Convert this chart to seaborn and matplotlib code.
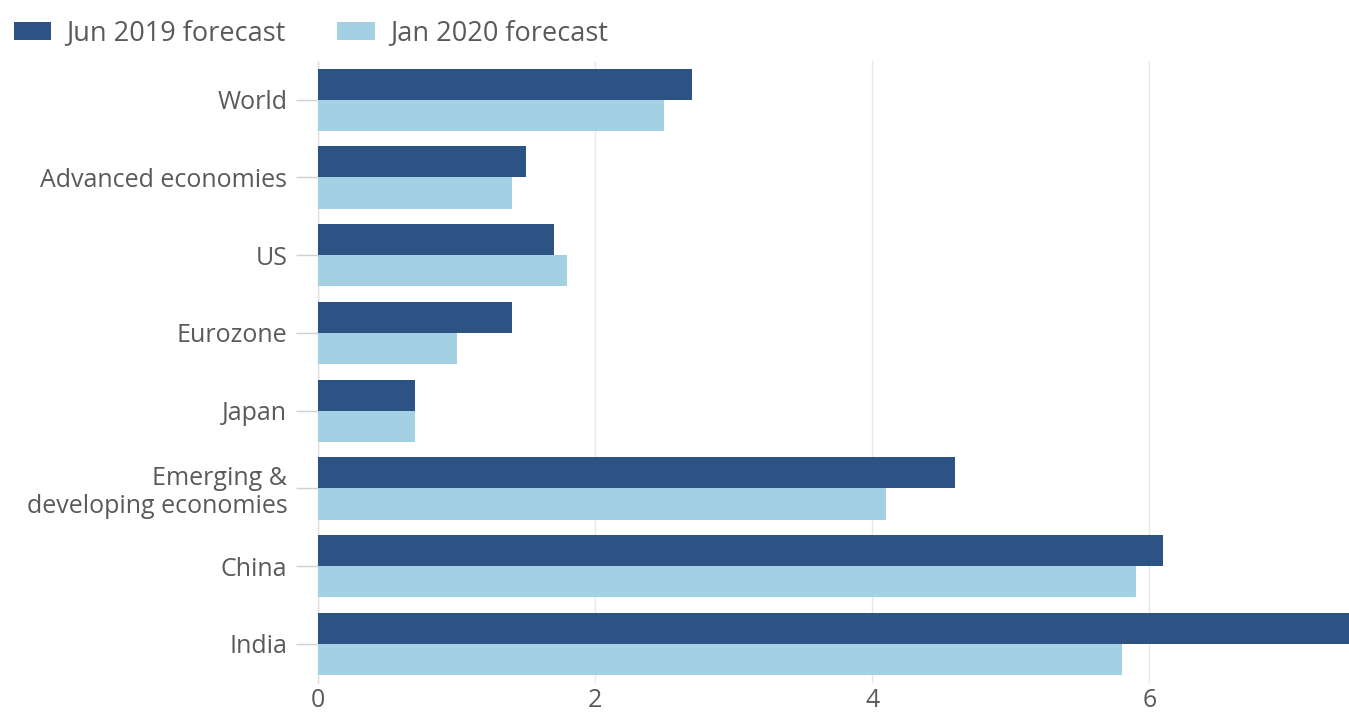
import matplotlib
matplotlib.use("Agg")
import matplotlib.pyplot as plt
import seaborn as sns
import pandas as pd

categories = ["World", "Advanced economies", "US", "Eurozone", "Japan",
              "Emerging &\ndeveloping economies", "China", "India"]
jun_2019 = [2.7, 1.5, 1.7, 1.4, 0.7, 4.6, 6.1, 7.5]
jan_2020 = [2.5, 1.4, 1.8, 1.0, 0.7, 4.1, 5.9, 5.8]
series_names = ["Jun 2019 forecast", "Jan 2020 forecast"]
x_ticks = [0, 2, 4, 6]

df = pd.DataFrame({
    "region": categories * 2,
    "value": jun_2019 + jan_2020,
    "series": [series_names[0]] * len(categories) + [series_names[1]] * len(categories),
})

sns.set_style("white")
plt.rcParams["font.family"] = ["Open Sans", "DejaVu Sans"]
text_color = "#5a5a5a"

fig = plt.figure(figsize=(13.49, 7.15), dpi=100)
ax = fig.add_axes([0.2357, 0.045, 0.7643, 0.870])

palette = {series_names[0]: "#2d5384", series_names[1]: "#a3d0e2"}
sns.barplot(data=df, y="region", x="value", hue="series", order=categories,
            hue_order=series_names, palette=palette, orient="h",
            width=0.8, saturation=1, ax=ax, legend=True, zorder=3,
            linewidth=0, edgecolor="none")

ax.set_xlim(0, 7.44)
ax.set_ylim(len(categories) - 0.5, -0.5)
ax.set_xticks(x_ticks)
ax.set_xticklabels([str(t) for t in x_ticks], fontsize=18, color=text_color)
ax.tick_params(axis="y", labelsize=18, labelcolor=text_color, length=16,
               width=1, color="#d0d0d0", pad=6, left=True)
ax.tick_params(axis="x", length=0, pad=4)
for lbl in ax.get_yticklabels():
    lbl.set_horizontalalignment("right")
    lbl.set_linespacing(1.15)
ax.set_xlabel("")
ax.set_ylabel("")
ax.grid(axis="x", color="#e8e8e8", linewidth=1, zorder=0)
ax.set_axisbelow(True)
for s in ax.spines.values():
    s.set_visible(False)
ax.spines["left"].set_visible(True)
ax.spines["left"].set_color("#e0e0e0")
ax.spines["left"].set_linewidth(1)

handles, labels = ax.get_legend_handles_labels()
ax.get_legend().remove()
fig.legend(handles, labels, loc="upper left", bbox_to_anchor=(0.0, 0.992),
           ncol=2, frameon=False, fontsize=19.5, labelcolor=text_color,
           handlelength=1.4, handleheight=0.67, columnspacing=1.9,
           handletextpad=0.55, borderaxespad=0.2, borderpad=0.3)

fig.savefig("out.png", dpi=100)
